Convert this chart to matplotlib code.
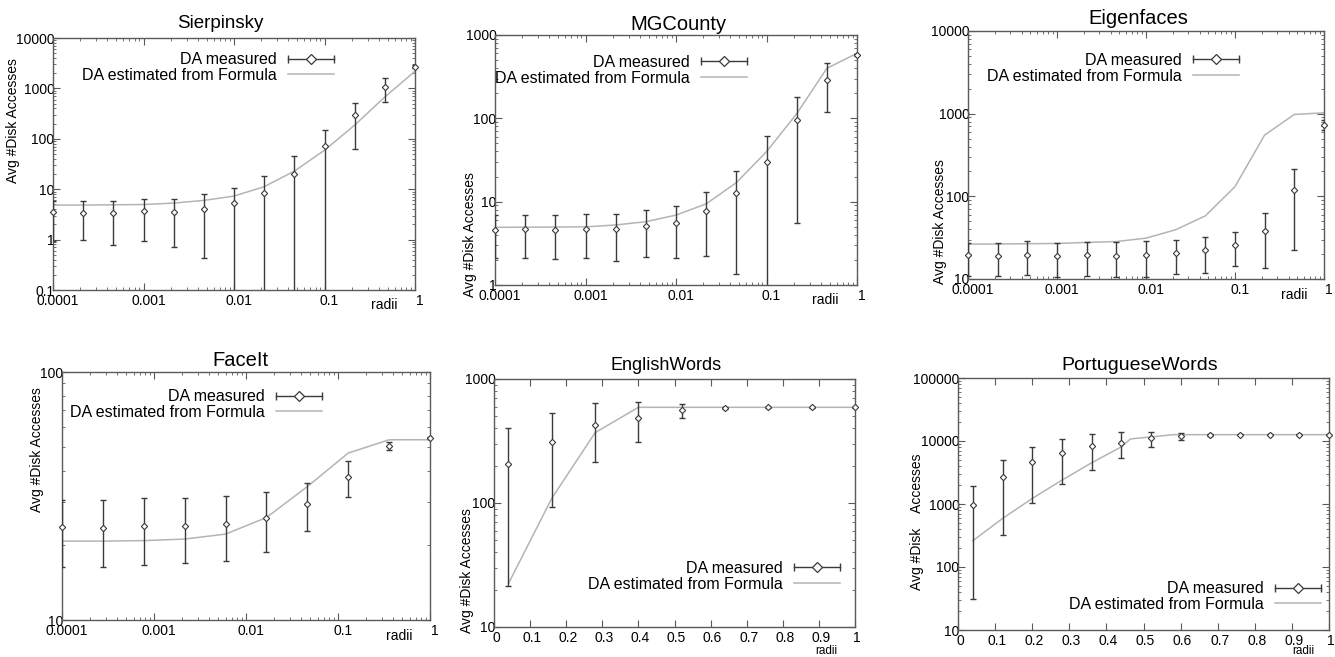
import numpy as np
import matplotlib
matplotlib.use("Agg")
import matplotlib.pyplot as plt
from matplotlib.lines import Line2D
from matplotlib.legend_handler import HandlerBase
from matplotlib.ticker import LogLocator, NullFormatter
from matplotlib.transforms import ScaledTranslation

plt.rcParams['font.family'] = ['Liberation Sans', 'DejaVu Sans']

W, H = 1335, 657
BAR = '#3a3a3a'
FORMULA = '#b4b4b4'
FRAME = '#5a5a5a'

# radii grids
radii_13 = [0.0001, 0.000215, 0.000464, 0.001, 0.00215, 0.00464, 0.01,
            0.0215, 0.0464, 0.1, 0.215, 0.464, 1.0]
radii_10 = [0.0001, 0.000278, 0.000774, 0.00215, 0.00599, 0.0167, 0.0464,
            0.129, 0.359, 1.0]
radii_eng = [0.04, 0.16, 0.28, 0.40, 0.52, 0.64, 0.76, 0.88, 1.0]
radii_por = [0.04, 0.12, 0.20, 0.28, 0.36, 0.44, 0.52, 0.60, 0.68, 0.76,
             0.84, 0.92, 1.0]
radii_por_formula = [0.04, 0.12, 0.20, 0.28, 0.36, 0.44, 0.465, 0.52, 0.58,
                     0.68, 0.76, 0.84, 0.92, 1.0]

# Sierpinsky
sier_mean = [3.46, 3.4, 3.4, 3.67, 3.6, 4.09, 5.3, 8.5, 20.2, 73.6, 294, 1086, 2704]
sier_lo = [0.95, 0.96, 0.78, 0.93, 0.7, 0.44, 0.01, 0.01, 0.01, 0.01, 64, 539, 2500]
sier_hi = [5.9, 5.9, 5.9, 6.35, 6.35, 7.86, 10.7, 18.2, 45.9, 152.6, 515, 1612, 2950]
sier_formula = [4.83, 4.85, 4.9, 4.97, 5.3, 6.0, 7.3, 11.2, 22.8, 59.4, 186, 677, 2188]

# MGCounty
mg_mean = [4.57, 4.66, 4.57, 4.7, 4.66, 5.15, 5.6, 7.65, 12.6, 29.9, 95.5, 288, 570]
mg_lo = [2.1, 2.13, 2.05, 2.13, 1.96, 2.15, 2.13, 2.2, 1.34, 0.5, 5.5, 118, 560]
mg_hi = [7.0, 6.92, 6.86, 7.04, 7.18, 8.02, 8.95, 12.9, 23.5, 60.8, 182, 457, 590]
mg_formula = [4.92, 4.94, 4.96, 4.99, 5.25, 5.75, 6.9, 9.4, 16.9, 39.8, 113, 398, 603]

# Eigenfaces
eig_mean = [19.5, 18.9, 19.7, 18.9, 19.3, 19.1, 19.7, 20.6, 22.2, 25.7, 38.6, 119.6, 727]
eig_lo = [10.8, 10.8, 11.2, 10.7, 10.9, 10.6, 10.5, 11.6, 11.8, 14.5, 13.6, 22.6, 632]
eig_hi = [27.2, 27.2, 28.5, 27.2, 27.7, 27.7, 29.0, 29.5, 31.8, 36.9, 63.1, 216, 836]
eig_formula = [26.4, 26.5, 26.7, 26.9, 27.7, 28.4, 31.2, 39.4, 58, 131, 551, 978, 1024]

# FaceIt
face_mean = [23.8, 23.4, 23.9, 24.0, 24.3, 25.8, 29.3, 37.6, 50.1, 54.0]
face_lo = [16.3, 16.3, 16.6, 17.0, 17.3, 18.8, 22.8, 31.4, 48.4, 53.5]
face_hi = [30.4, 30.4, 31.0, 31.0, 31.5, 32.8, 35.8, 43.9, 52.0, 54.5]
face_formula = [20.8, 20.8, 20.9, 21.2, 22.2, 25.9, 34.5, 47.1, 53.3, 53.3]

# EnglishWords
eng_mean = [208, 308, 425, 481, 558, 583, 591, 591, 591]
eng_lo = [21.6, 92, 215, 308, 487, 570, 585, 585, 585]
eng_hi = [400, 528, 636, 648, 628, 596, 597, 597, 597]
eng_formula = [22.4, 109, 369, 591, 591, 591, 591, 591, 591]

# PortugueseWords
por_mean = [970, 2662, 4660, 6550, 8260, 9440, 11060, 11900, 12480, 12600,
            12600, 12600, 12600]
por_lo = [30.6, 321, 1043, 2114, 3525, 5330, 8060, 10400, 12000, 12300,
          12300, 12300, 12300]
por_hi = [1918, 4952, 8165, 10920, 12950, 13930, 13930, 13430, 12950, 12900,
          12900, 12900, 12900]
por_formula = [261, 589, 1223, 2388, 4500, 8060, 10800, 11600, 12600, 12600,
               12600, 12600, 12600, 12600]

log_xticks = [0.0001, 0.001, 0.01, 0.1, 1]
log_xlabels = ['0.0001', '0.001', '0.01', '0.1', '1']
lin_xticks = [0, 0.1, 0.2, 0.3, 0.4, 0.5, 0.6, 0.7, 0.8, 0.9, 1]
lin_xlabels = ['0', '0.1', '0.2', '0.3', '0.4', '0.5', '0.6', '0.7', '0.8', '0.9', '1']


class MeasuredKey(HandlerBase):
    """gnuplot-like key: horizontal bar with end caps and a diamond."""
    def create_artists(self, legend, orig_handle, xdescent, ydescent,
                       width, height, fontsize, trans):
        y = height / 2 - ydescent
        x0, x1 = -xdescent, width - xdescent
        bar = Line2D([x0, x1], [y, y], color=BAR, lw=1.0)
        caps = Line2D([x0, x1], [y, y], ls='none', marker='|', ms=6,
                      mew=1.0, color=BAR)
        dia = Line2D([(x0 + x1) / 2], [y], ls='none', marker='D', ms=5.5,
                     mfc='white', mec=BAR, mew=0.9)
        for a in (bar, caps, dia):
            a.set_transform(trans)
        return [bar, caps, dia]


def px_box(l, t, r, b):
    return [l / W, 1 - b / H, (r - l) / W, (b - t) / H]


panels = [
    dict(title='Sierpinsky', box=(53, 38, 415, 290), x=radii_13, mean=sier_mean,
         lo=sier_lo, hi=sier_hi, fx=radii_13, f=sier_formula, logx=True,
         ylim=(0.1, 10000), yticks=[0.1, 1, 10, 100, 1000, 10000],
         ylabels=['0.1', '1', '10', '100', '1000', '10000'],
         title_xy=(220, 23), title_fs=13.5, ylab_xy=(13, 121),
         ylab='Avg #Disk Accesses', radii_xy=(384, 305), radii_fs=10,
         leg=(0.776, 0.944)),
    dict(title='MGCounty', box=(495, 35, 857, 285), x=radii_13, mean=mg_mean,
         lo=mg_lo, hi=mg_hi, fx=radii_13, f=mg_formula, logx=True,
         ylim=(1, 1000), yticks=[1, 10, 100, 1000],
         ylabels=['1', '10', '100', '1000'],
         title_xy=(678, 25), title_fs=14.5, ylab_xy=(470, 235),
         ylab='Avg #Disk Accesses', radii_xy=(825, 300), radii_fs=10,
         leg=(0.696, 0.92)),
    dict(title='Eigenfaces', box=(968, 31, 1324, 279), x=radii_13, mean=eig_mean,
         lo=eig_lo, hi=eig_hi, fx=radii_13, f=eig_formula, logx=True,
         ylim=(10, 10000), yticks=[10, 100, 1000, 10000],
         ylabels=['10', '100', '1000', '10000'],
         title_xy=(1138, 18), title_fs=14.5, ylab_xy=(940, 222),
         ylab='Avg #Disk Accesses', radii_xy=(1294, 295), radii_fs=10,
         leg=(0.761, 0.911)),
    dict(title='FaceIt', box=(62, 372, 430, 620), x=radii_10, mean=face_mean,
         lo=face_lo, hi=face_hi, fx=radii_10, f=face_formula, logx=True,
         ylim=(10, 100), yticks=[10, 100], ylabels=['10', '100'],
         title_xy=(240, 361), title_fs=14.5, ylab_xy=(37, 450),
         ylab='Avg #Disk Accesses', radii_xy=(399, 636), radii_fs=10,
         leg=(0.707, 0.931)),
    dict(title='EnglishWords', box=(494, 379, 855, 627), x=radii_eng, mean=eng_mean,
         lo=eng_lo, hi=eng_hi, fx=radii_eng, f=eng_formula, logx=False,
         ylim=(10, 1000), yticks=[10, 100, 1000], ylabels=['10', '100', '1000'],
         title_xy=(666, 365), title_fs=13, ylab_xy=(467, 571),
         ylab='Avg #Disk Accesses', radii_xy=(826, 651), radii_fs=8.5,
         leg=(0.958, 0.266)),
    dict(title='PortugueseWords', box=(958, 378, 1329, 630), x=radii_por, mean=por_mean,
         lo=por_lo, hi=por_hi, fx=radii_por_formula, f=por_formula, logx=False,
         ylim=(10, 100000), yticks=[10, 100, 1000, 10000, 100000],
         ylabels=['10', '100', '1000', '10000', '100000'],
         title_xy=(1140, 366), title_fs=14, ylab_xy=(917, 522),
         ylab='Avg #Disk    Accesses', radii_xy=(1303, 651), radii_fs=8.5,
         leg=(0.978, 0.194)),
]

fig = plt.figure(figsize=(W / 100, H / 100), dpi=100)

for p in panels:
    ax = fig.add_axes(px_box(*p['box']))
    mean = np.array(p['mean'])
    err = [mean - np.array(p['lo']), np.array(p['hi']) - mean]

    ax.plot(p['fx'], p['f'], color=FORMULA, lw=1.1, zorder=2)
    # bars are clipped at the frame, the diamonds are not
    ax.errorbar(p['x'], mean, yerr=err, fmt='none', ecolor=BAR,
                elinewidth=1.0, capsize=2.5, capthick=1.0, zorder=3)
    ax.plot(p['x'], mean, 'D', ms=3.2, mfc='white', mec=BAR, mew=0.8,
            zorder=4, clip_on=False)

    ax.set_yscale('log')
    ax.set_ylim(*p['ylim'])
    ax.set_yticks(p['yticks'], p['ylabels'])
    ax.yaxis.set_minor_locator(LogLocator(base=10, subs=np.arange(2, 10)))
    ax.yaxis.set_minor_formatter(NullFormatter())
    if p['logx']:
        ax.set_xscale('log')
        ax.set_xlim(0.0001, 1)
        ax.set_xticks(log_xticks, log_xlabels)
        ax.xaxis.set_minor_locator(LogLocator(base=10, subs=np.arange(2, 10)))
        ax.xaxis.set_minor_formatter(NullFormatter())
        shift = 5
    else:
        ax.set_xlim(0, 1)
        ax.set_xticks(lin_xticks, lin_xlabels)
        shift = 2

    ax.tick_params(which='both', direction='in', top=True, right=True,
                   color=FRAME, labelsize=10)
    ax.tick_params(which='major', length=5, width=0.8)
    ax.tick_params(which='minor', length=2.5, width=0.6)
    ax.tick_params(axis='y', pad=-1)
    ax.tick_params(axis='x', pad=3)
    off = ScaledTranslation(shift / 100, 0, fig.dpi_scale_trans)
    for lab in ax.get_xticklabels():
        lab.set_transform(lab.get_transform() + off)
    for s in ax.spines.values():
        s.set_color(FRAME)
        s.set_linewidth(1.0)

    h_meas = Line2D([], [])
    h_form = Line2D([], [], color=FORMULA, lw=1.1)
    ax.legend([h_meas, h_form], ['DA measured', 'DA estimated from Formula'],
              handler_map={h_meas: MeasuredKey()}, loc='upper right',
              bbox_to_anchor=p['leg'], frameon=False, markerfirst=False,
              fontsize=11.5, handlelength=2.9, handletextpad=0.7,
              labelspacing=0.05, borderpad=0, borderaxespad=0)

    tx, ty = p['title_xy']
    fig.text(tx / W, 1 - ty / H, p['title'], ha='center', va='center',
             fontsize=p['title_fs'])
    lx, ly = p['ylab_xy']
    fig.text(lx / W, 1 - ly / H, p['ylab'], ha='center', va='center',
             rotation=90, fontsize=10)
    rx, ry = p['radii_xy']
    fig.text(rx / W, 1 - ry / H, 'radii', ha='center', va='center',
             fontsize=p['radii_fs'])

fig.savefig('out.png', dpi=100)
